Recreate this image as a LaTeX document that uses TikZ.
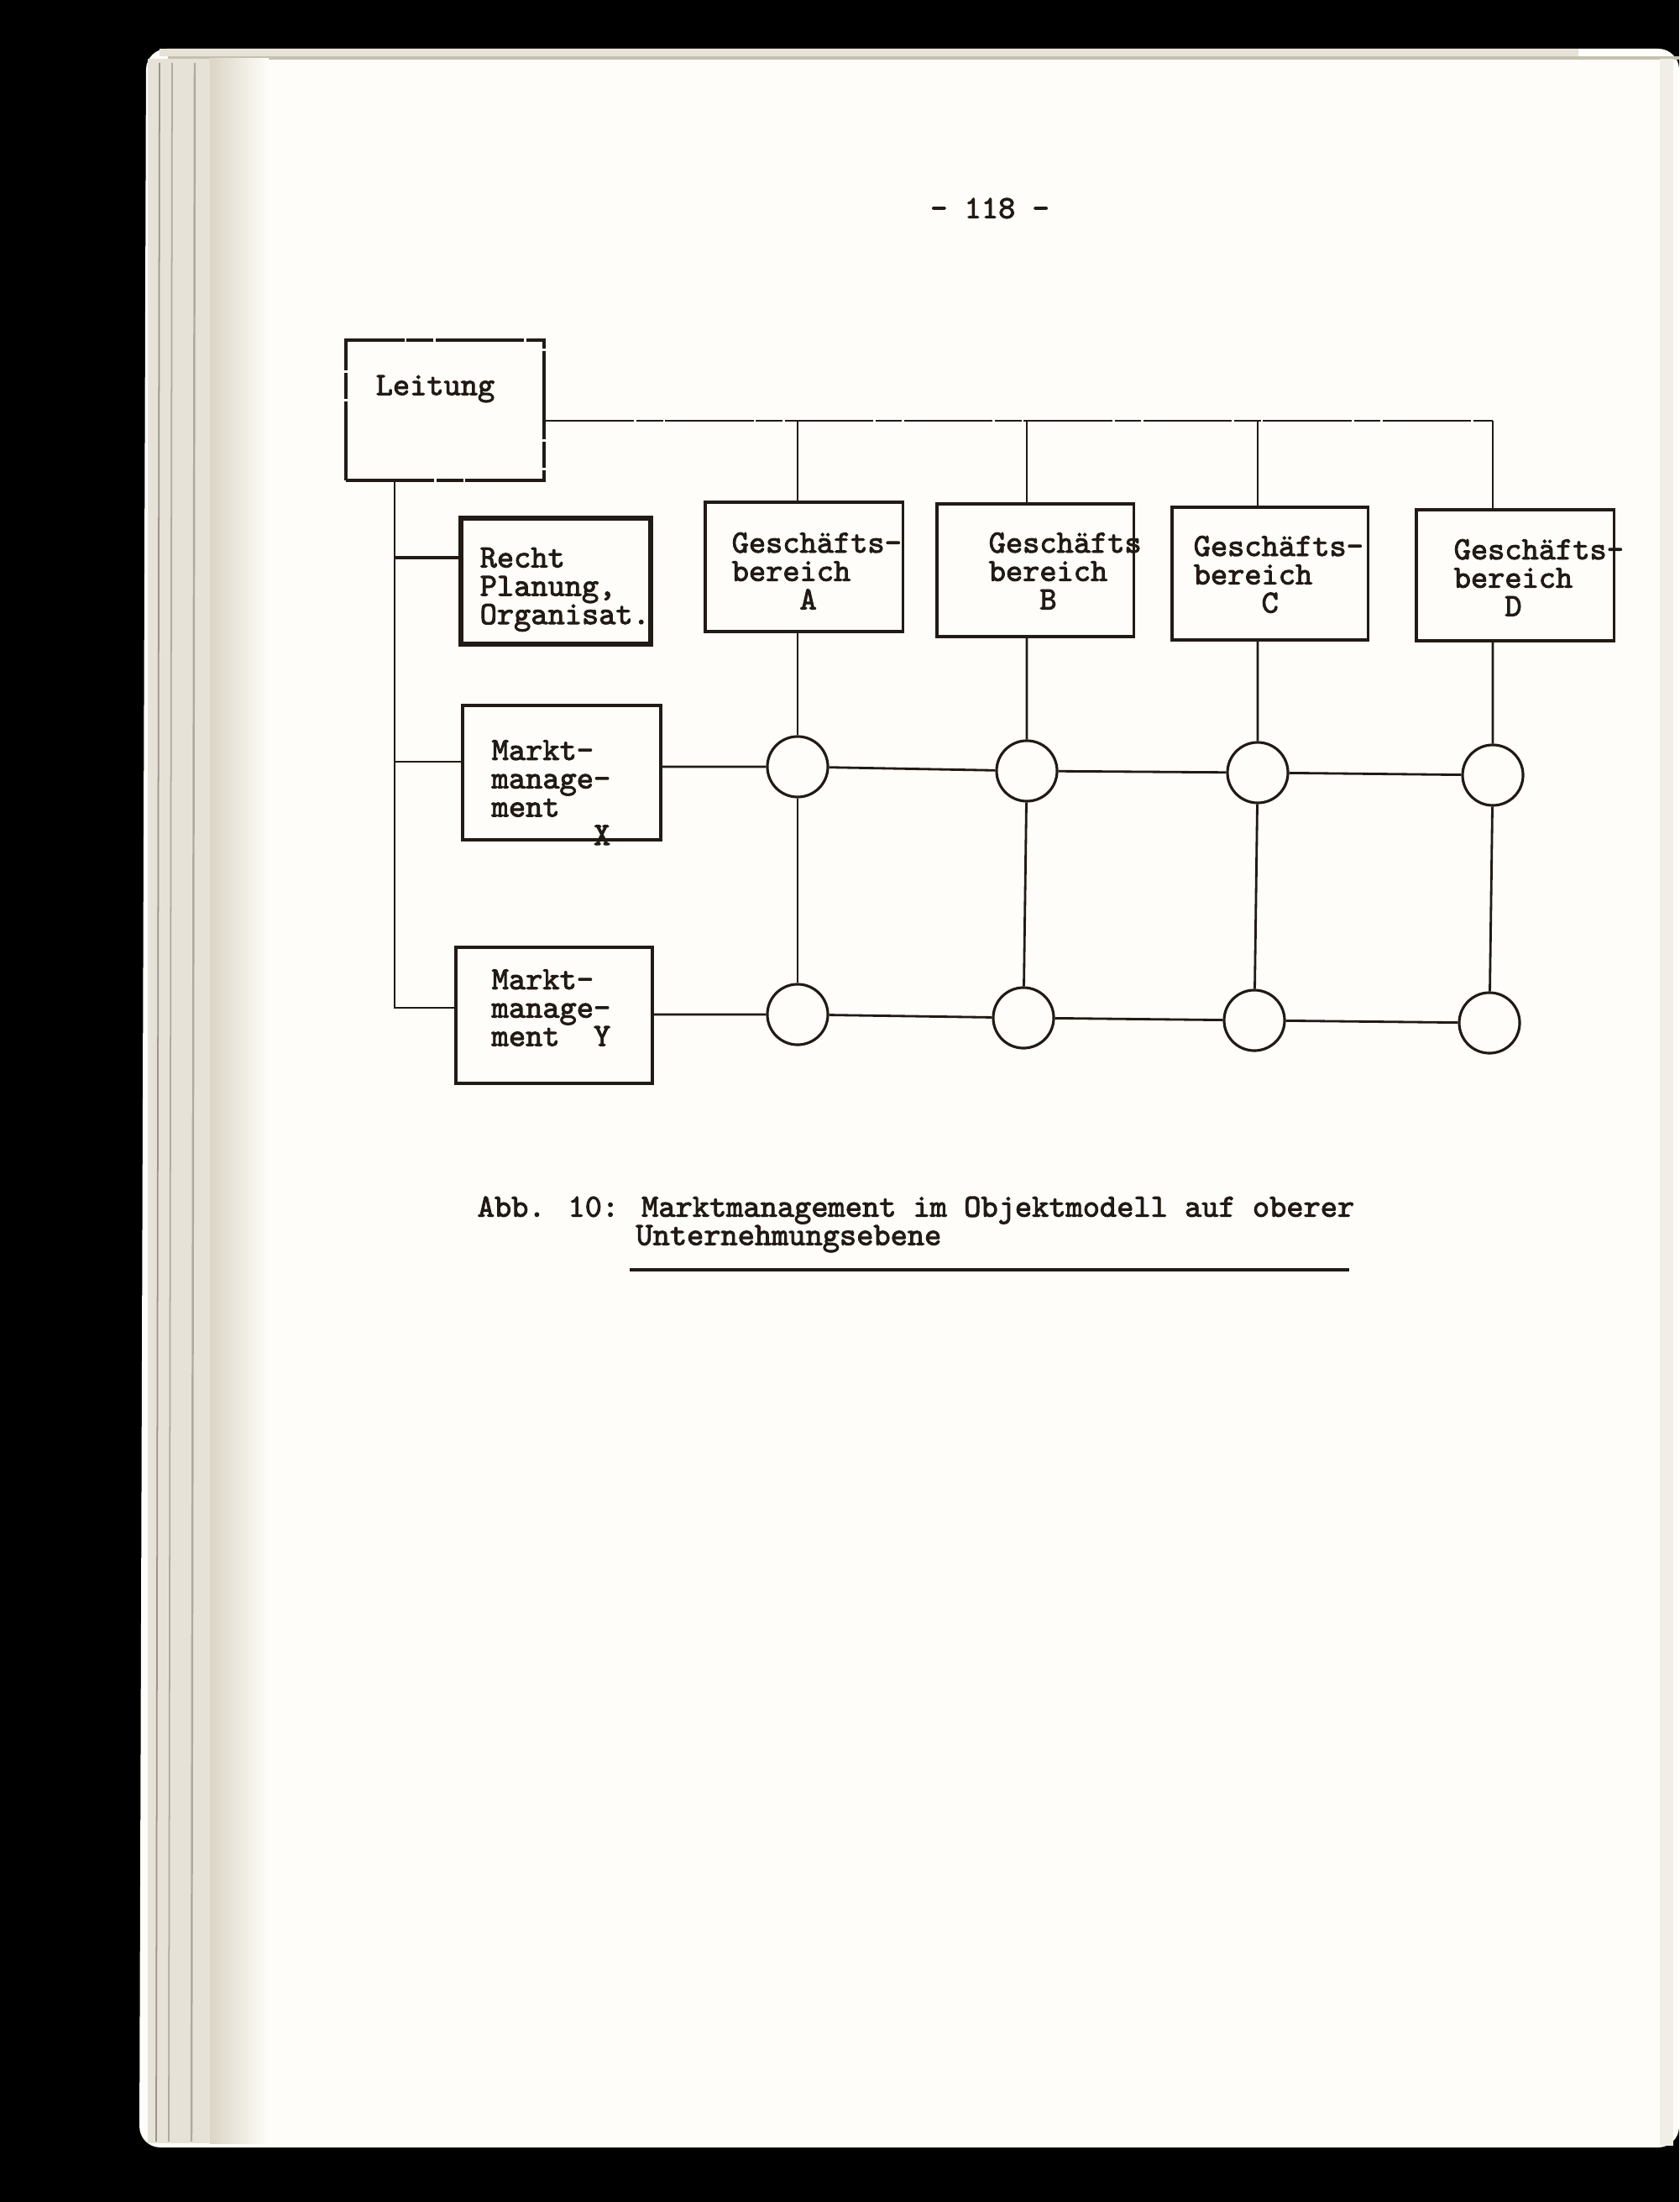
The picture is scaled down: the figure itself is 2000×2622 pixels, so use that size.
\documentclass[tikz,border=0pt]{standalone}
\usepackage{fontspec}
\usetikzlibrary{calc}
\newfontfamily\typew{Latin Modern Mono}[FakeBold=2.5]
\definecolor{ink}{HTML}{221A14}
\definecolor{paper}{HTML}{FEFDF9}
\definecolor{edge}{HTML}{DCD5C6}

\begin{document}
\begin{tikzpicture}[x=0.01cm,y=-0.01cm,
  box/.style={draw=ink, line width=0.9pt, inner sep=0pt},
  faint/.style={dash pattern=on 30pt off 0.8pt on 9pt off 0.7pt},
  txt/.style={text=ink, inner sep=0pt, align=left, anchor=west,
    font=\typew\fontsize{10.95pt}{9.6pt}\selectfont},
  knot/.style={draw=ink, circle, line width=0.9pt, minimum size=0.72cm, inner sep=0pt, fill=paper},
  link/.style={draw=ink, line width=0.8pt}]
\useasboundingbox (0,0) rectangle (2000,2622);

% scanned page
\fill[black] (0,0) rectangle (2000,2622);
\fill[paper, rounded corners=0.25cm] (2000,58) -- (174,58) -- (166,2557) -- (2000,2557) -- cycle;
\fill[edge!70] (190,58) rectangle (1880,67);
\draw[edge!90!black, line width=1pt] (200,69) -- (2000,69);
\shade[left color=edge, right color=paper] (250,70) rectangle (320,2552);
\fill[edge!70] (176,70) rectangle (250,2552);
\draw[edge!70!black, line width=0.5pt] (190,75) -- (186,2550);
\draw[edge!80!black, line width=0.5pt] (205,75) -- (201,2550);
\draw[edge!80!black, line width=0.7pt] (232,75) -- (228,2550);
\fill[edge!40] (1977,70) rectangle (1993,2555);

\node[txt, anchor=center] (pagenum) at (1179,248) {- 118 -};

% boxes
\node[box, faint, minimum width=2.36cm, minimum height=1.67cm] (leitung) at (530,488.5) {};
\node[box, line width=1.5pt, minimum width=2.26cm, minimum height=1.50cm] (recht) at (662,692) {};
\node[box, minimum width=2.35cm, minimum height=1.54cm] (bereichA) at (957.5,675) {};
\node[box, minimum width=2.34cm, minimum height=1.58cm] (bereichB) at (1233,679) {};
\node[box, minimum width=2.33cm, minimum height=1.58cm] (bereichC) at (1512.5,683) {};
\node[box, minimum width=2.35cm, minimum height=1.56cm] (bereichD) at (1804.5,685) {};
\node[box, minimum width=2.36cm, minimum height=1.60cm] (marktX) at (669,920) {};
\node[box, minimum width=2.34cm, minimum height=1.62cm] (marktY) at (660,1209) {};

% texts
\node[txt] (leitungtext) at (447,463) {Leitung};
\node[txt] (rechttext) at (571,702) {Recht\\Planung,\\Organisat.};
\node[txt] (textA) at (871,680) {Geschäfts-\\bereich\\\phantom{0000}A};
\node[txt] (textB) at (1177,680) {Geschäfts\\bereich\\\phantom{000}B};
\node[txt] (textC) at (1421,684) {Geschäfts-\\bereich\\\phantom{0000}C};
\node[txt] (textD) at (1731,688) {Geschäfts-\\bereich\\\phantom{000}D};
\node[txt] (textX) at (585,944) {Markt-\\manage-\\ment\\\phantom{000000}X};
\node[txt] (textY) at (585,1200) {Markt-\\manage-\\ment\ \ Y};

% matrix knots
\node[knot] (knotA1) at (950,913) {};
\node[knot] (knotB1) at (1223,918) {};
\node[knot] (knotC1) at (1498,920) {};
\node[knot] (knotD1) at (1778,923) {};
\node[knot] (knotA2) at (950,1208) {};
\node[knot] (knotB2) at (1219,1212) {};
\node[knot] (knotC2) at (1494,1215) {};
\node[knot] (knotD2) at (1774,1218) {};

% top rail to the divisions
\coordinate (rail) at (1200,501);
\draw[link, faint] (leitung.east |- rail) -- (knotD1 |- rail);
\draw[link] (knotA1 |- rail) -- (knotA1 |- bereichA.north);
\draw[link] (knotB1 |- rail) -- (knotB1 |- bereichB.north);
\draw[link] (knotC1 |- rail) -- (knotC1 |- bereichC.north);
\draw[link] (knotD1 |- rail) -- (knotD1 |- bereichD.north);

% left trunk
\coordinate (trunk) at (470,1200);
\coordinate (rechtjoin) at ($(recht.north west)!0.32!(recht.south west)$);
\coordinate (xjoin) at ($(marktX.north west)!0.42!(marktX.south west)$);
\draw[link] (leitung.south -| trunk) -- (trunk) -- (trunk -| marktY.west);
\draw[link, line width=1.3pt] (trunk |- rechtjoin) -- (rechtjoin);
\draw[link] (trunk |- xjoin) -- (xjoin);

% columns
\draw[link] (knotA1 |- bereichA.south) -- (knotA1) -- (knotA2);
\draw[link] (knotB1 |- bereichB.south) -- (knotB1) -- (knotB2);
\draw[link] (knotC1 |- bereichC.south) -- (knotC1) -- (knotC2);
\draw[link] (knotD1 |- bereichD.south) -- (knotD1) -- (knotD2);

% rows
\draw[link] (marktX.east |- knotA1) -- (knotA1) -- (knotB1) -- (knotC1) -- (knotD1);
\draw[link] (marktY.east |- knotA2) -- (knotA2) -- (knotB2) -- (knotC2) -- (knotD2);

% caption
\node[txt] (caption) at (568,1458) {Abb. 10: Marktmanagement im Objektmodell auf oberer\\\phantom{Abb. 10:x}Unternehmungsebene};
\draw[ink, line width=1.1pt] (750,1512) -- (1607,1512);

\end{tikzpicture}
\end{document}
